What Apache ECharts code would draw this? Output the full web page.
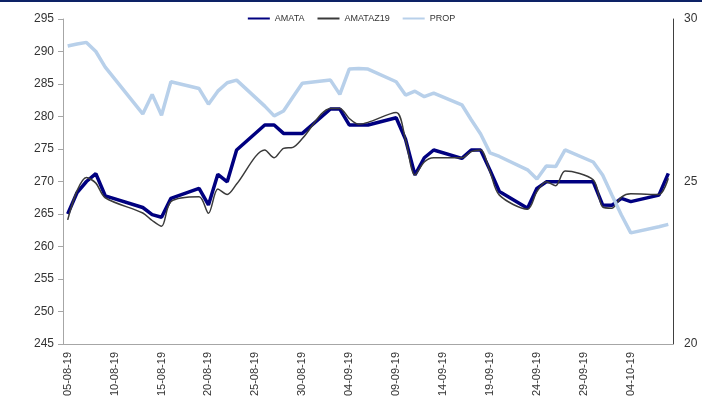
<!DOCTYPE html>
<html>
<head>
<meta charset="utf-8">
<script src="https://cdn.jsdelivr.net/npm/echarts@6/dist/echarts.min.js"></script>
<style>
  html, body { margin: 0; padding: 0; background: #fff; }
  #chart { width: 702px; height: 401px; }
</style>
</head>
<body>
<div id="chart"></div>
<script>
// trading days (DD-MM-19)
const tradeDates = [
  '05-08-19', '06-08-19', '07-08-19', '08-08-19', '09-08-19',
  '13-08-19', '14-08-19', '15-08-19', '16-08-19',
  '19-08-19', '20-08-19', '21-08-19', '22-08-19', '23-08-19',
  '26-08-19', '27-08-19', '28-08-19', '29-08-19', '30-08-19',
  '02-09-19', '03-09-19', '04-09-19', '05-09-19', '06-09-19',
  '09-09-19', '10-09-19', '11-09-19', '12-09-19', '13-09-19',
  '16-09-19', '17-09-19', '18-09-19', '19-09-19', '20-09-19',
  '23-09-19', '24-09-19', '25-09-19', '26-09-19', '27-09-19',
  '30-09-19', '01-10-19', '02-10-19', '03-10-19', '04-10-19',
  '07-10-19', '08-10-19'
];

// right axis
const amata = [
  24.0, 24.66, 25.0, 25.24, 24.56,
  24.2, 23.98, 23.9, 24.48,
  24.79, 24.28, 25.22, 24.99, 25.97,
  26.74, 26.74, 26.48, 26.48, 26.48,
  27.23, 27.23, 26.74, 26.74, 26.74,
  26.96, 26.3, 25.2, 25.73, 25.97,
  25.71, 25.97, 25.97, 25.35, 24.69,
  24.18, 24.79, 24.99, 24.99, 24.99,
  24.99, 24.28, 24.27, 24.48, 24.38,
  24.58, 25.25
];

const amataZ19 = [
  23.82, 24.72, 25.12, 24.95, 24.5,
  24.03, 23.8, 23.62, 24.38,
  24.53, 24.02, 24.77, 24.6, 24.92,
  25.97, 25.73, 26.02, 26.05, 26.32,
  27.25, 27.25, 26.94, 26.76, 26.82,
  27.12, 26.28, 25.2, 25.6, 25.73,
  25.73, 25.92, 25.97, 25.3, 24.58,
  24.15, 24.69, 24.99, 24.87, 25.32,
  25.05, 24.22, 24.18, 24.52, 24.62,
  24.6, 25.1
];

// left axis
const prop = [
  290.85, 291.15, 291.4, 290.0, 287.6,
  280.4, 283.4, 280.2, 285.35,
  284.3, 281.9, 283.9, 285.2, 285.6,
  281.6, 280.1, 280.85, 283.0, 285.1,
  285.6, 283.4, 287.3, 287.4, 287.3,
  285.35, 283.3, 283.9, 283.05, 283.6,
  281.8, 279.5, 277.3, 274.4, 273.85,
  271.8, 270.4, 272.4, 272.3, 274.85,
  273.0, 271.0, 267.9, 264.85, 262.1,
  263.05, 263.4
];

// calendar axis: every day from first to last trading day
function fmt(d) {
  return String(d.getDate()).padStart(2, '0') + '-' + String(d.getMonth() + 1).padStart(2, '0') + '-19';
}
const days = [];
for (let t = new Date(2019, 7, 5); t <= new Date(2019, 9, 8); t.setDate(t.getDate() + 1)) {
  days.push(fmt(t));
}

function onDays(values) {
  return days.map(d => {
    const i = tradeDates.indexOf(d);
    return i < 0 ? null : values[i];
  });
}

const chart = echarts.init(document.getElementById('chart'), null, { renderer: 'canvas' });

const axisFont = { fontFamily: 'Liberation Sans, Arial, sans-serif', color: '#333' };

const option = {
  animation: false,
  backgroundColor: '#fff',
  graphic: [{
    type: 'rect',
    shape: { x: 0, y: 0, width: 702, height: 2 },
    style: { fill: '#0d2266' }
  }],
  legend: {
    top: 9,
    left: 'center',
    itemWidth: 22,
    itemHeight: 8,
    itemGap: 12,
    itemStyle: { opacity: 0 },
    textStyle: { fontSize: 9, color: '#333', fontFamily: 'Liberation Sans, Arial, sans-serif' },
    data: ['AMATA', 'AMATAZ19', 'PROP']
  },
  grid: {
    left: 63,
    right: 29,
    top: 19,
    bottom: 57,
    containLabel: false,
    outerBoundsMode: 'none'
  },
  xAxis: {
    type: 'category',
    data: days,
    boundaryGap: true,
    axisLine: { lineStyle: { color: '#a6a6a6', width: 1 } },
    axisTick: { show: false },
    axisLabel: Object.assign({ interval: 4, rotate: 90, fontSize: 11, margin: 8 }, axisFont),
    splitLine: { show: false }
  },
  yAxis: [{
    type: 'value',
    min: 245,
    max: 295,
    interval: 5,
    axisLine: { show: true, lineStyle: { color: '#a6a6a6' } },
    axisTick: { show: true, inside: false, length: 5, lineStyle: { color: '#a6a6a6' } },
    axisLabel: Object.assign({ fontSize: 12, margin: 9 }, axisFont),
    splitLine: { show: false }
  }, {
    type: 'value',
    position: 'right',
    min: 20,
    max: 30,
    interval: 5,
    axisLine: { show: true, lineStyle: { color: '#404040' } },
    axisTick: { show: false },
    axisLabel: Object.assign({ fontSize: 12, margin: 11 }, axisFont),
    splitLine: { show: false }
  }],
  series: [{
    name: 'AMATA',
    type: 'line',
    yAxisIndex: 1,
    data: onDays(amata),
    connectNulls: true,
    symbol: 'none',
    color: '#000080',
    lineStyle: { width: 3.5, color: '#000080' }
  }, {
    name: 'AMATAZ19',
    type: 'line',
    yAxisIndex: 1,
    data: onDays(amataZ19),
    connectNulls: true,
    smooth: 0.3,
    symbol: 'none',
    color: '#3a3a3a',
    lineStyle: { width: 1.5, color: '#3a3a3a' }
  }, {
    name: 'PROP',
    type: 'line',
    yAxisIndex: 0,
    data: onDays(prop),
    connectNulls: true,
    symbol: 'none',
    color: '#b8d0ea',
    lineStyle: { width: 3.5, color: '#b8d0ea' }
  }]
};

chart.setOption(option);
</script>
</body>
</html>
